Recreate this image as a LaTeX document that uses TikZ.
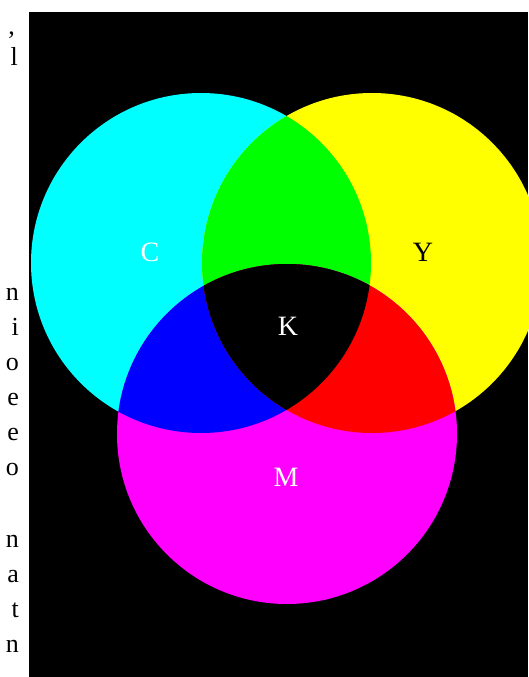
\documentclass[tikz,border=0pt]{standalone}
\usepackage{fontspec}
\setmainfont{Liberation Serif}
\definecolor{inkC}{RGB}{0,255,255}
\definecolor{inkM}{RGB}{255,0,255}
\definecolor{inkY}{RGB}{255,255,0}
\definecolor{mixR}{RGB}{255,0,0}
\definecolor{mixG}{RGB}{0,255,0}
\definecolor{mixB}{RGB}{0,0,255}
\begin{document}
\begin{tikzpicture}[
  x=1pt,y=-1pt,
  lbl/.style={font=\fontsize{28}{32}\selectfont,text=white,inner sep=0pt},
  margintxt/.style={font=\fontsize{26}{30}\selectfont,anchor=base east,inner sep=0pt}
]
  \useasboundingbox (0,0) rectangle (528,677);
  \fill[white] (0,0) rectangle (528,677);
  \fill[black] (29,12) rectangle (528,677);
  \def\rad{170pt}
  \coordinate (cC) at (201,263);
  \coordinate (cY) at (372,263);
  \coordinate (cM) at (287,434);
  % single inks
  \fill[inkC] (cC) circle[radius=\rad];
  \fill[inkY] (cY) circle[radius=\rad];
  \fill[inkM] (cM) circle[radius=\rad];
  % two inks
  \begin{scope}
    \clip (cC) circle[radius=\rad];
    \fill[mixG] (cY) circle[radius=\rad];
    \fill[mixB] (cM) circle[radius=\rad];
  \end{scope}
  \begin{scope}
    \clip (cY) circle[radius=\rad];
    \fill[mixR] (cM) circle[radius=\rad];
  \end{scope}
  % three inks
  \begin{scope}
    \clip (cC) circle[radius=\rad];
    \clip (cY) circle[radius=\rad];
    \fill[black] (cM) circle[radius=\rad];
  \end{scope}
  \node[lbl] (labC) at (150,252) {C};
  \node[lbl,text=black] (labY) at (423,252) {Y};
  \node[lbl] (labK) at (288,326) {K};
  \node[lbl] (labM) at (286,477) {M};
  % cut-off text of the page
  \node[margintxt] (txt0) at (15,35) {,};
  \node[margintxt] (txtl) at (18,66) {l};
  \foreach \ch/\yy [count=\i] in {n/300,i/335,o/370,e/405,e/440,o/475,n/547,a/582,t/617,n/652}
    \node[margintxt] (txt\i) at (19,\yy) {\ch};
\end{tikzpicture}
\end{document}
